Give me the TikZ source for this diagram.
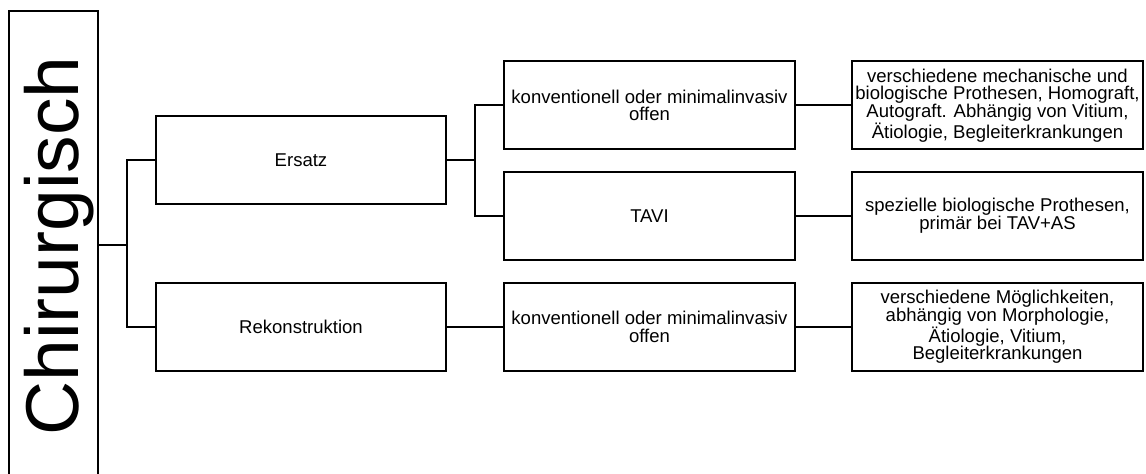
\documentclass[tikz,border=0pt]{standalone}
\usepackage{fontspec}
\setmainfont{Liberation Sans}
\begin{document}
\begin{tikzpicture}[x=0.75pt,y=-0.75pt,
  box/.style={draw, line width=1.5pt, minimum width=218pt, minimum height=66pt, inner sep=0pt, align=center,
    font=\fontsize{13.9}{13.2}\selectfont},
  conn/.style={line width=1.5pt}]
\useasboundingbox (0,0) rectangle (1146,474);
\node[draw, line width=1.5pt, minimum width=66.75pt, minimum height=360pt, inner sep=0pt] (chirbox) at (53.5,251) {};
\node[rotate=90, anchor=base, inner sep=0pt, font=\fontsize{56.2}{56}\selectfont] (chirtext) at (78,246) {Chirurgisch};
\node[box] (ers) at (301,160) {Ersatz};
\node[box] (rek) at (301,327) {Rekonstruktion};
\node[box] (m1) at (649.5,105.5) {konventionell oder minimalinvasiv\\offen};
\node[box] (m2) at (649.5,216) {TAVI};
\node[box] (m3) at (649.5,327) {konventionell oder minimalinvasiv\\offen};
\node[box] (r1) at (997.5,105.5) {verschiedene mechanische und\\biologische Prothesen, Homograft,\\Autograft. Abhängig von Vitium,\\Ätiologie, Begleiterkrankungen};
\node[box] (r2) at (997.5,216) {spezielle biologische Prothesen,\\primär bei TAV+AS};
\node[box] (r3) at (997.5,327) {verschiedene Möglichkeiten,\\abhängig von Morphologie,\\Ätiologie, Vitium,\\Begleiterkrankungen};
\coordinate (j1) at (127,245);
\coordinate (j2) at (475,160);
\draw[conn] (chirbox.east |- j1) -- (j1);
\draw[conn] (ers.west) -| (j1 |- ers.west) |- (rek.west);
\draw[conn] (ers.east) -- (j2);
\draw[conn] (m1.west) -| (j2 |- m1.west) |- (m2.west);
\draw[conn] (rek.east) -- (m3.west);
\draw[conn] (m1.east) -- (r1.west);
\draw[conn] (m2.east) -- (r2.west);
\draw[conn] (m3.east) -- (r3.west);
\end{tikzpicture}
\end{document}
